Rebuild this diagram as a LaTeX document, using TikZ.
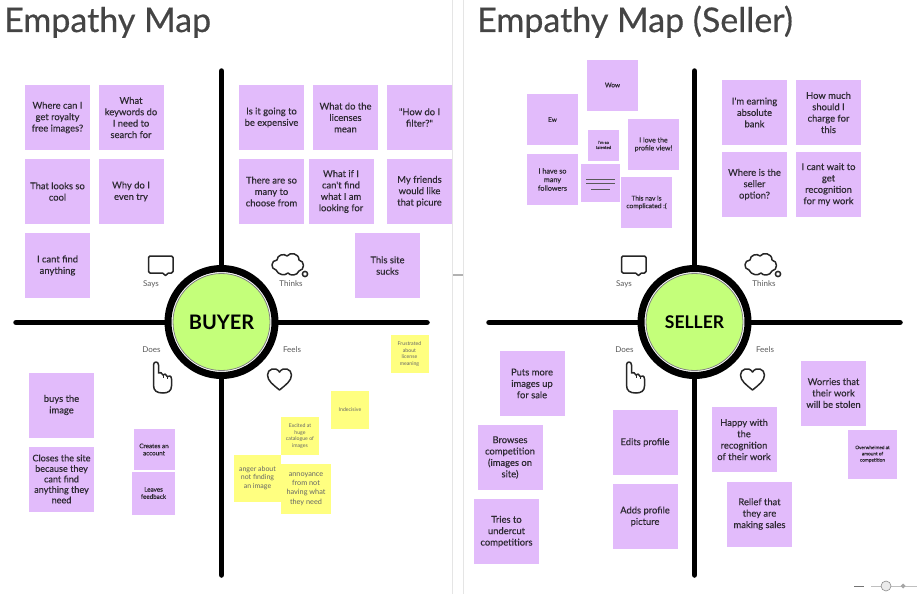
\documentclass[tikz,border=0pt]{standalone}
\usepackage{fontspec}
\setmainfont{Lato}
\newfontfamily\notefont{Lato}[FakeBold=0.25]
\newfontfamily\headfont{Lato}[FakeBold=0.5]
\definecolor{notepurple}{HTML}{E2BBFB}
\definecolor{noteyellow}{HTML}{FFFF80}
\definecolor{hubgreen}{HTML}{C4FF7A}
\definecolor{titlegray}{HTML}{444444}
\definecolor{inkgray}{HTML}{2E2A33}
\tikzset{
    note/.style={fill=notepurple,inner sep=0pt,minimum size=65pt,align=center,text=inkgray,font=\notefont\fontsize{9.4}{11.4}\selectfont},
    sticky/.style={note,fill=noteyellow,text=black!60,minimum size=38pt,font=\rmfamily\fontsize{5.2}{6.4}\selectfont},
    arm/.style={line width=5.5pt,line cap=round,black},
    hubring/.style={circle,draw=black,fill=white,line width=7pt,minimum size=107pt,inner sep=0pt},
    hub/.style={circle,draw=black!50,line width=.8pt,fill=hubgreen,minimum size=97pt,inner sep=0pt},
    quad/.style={text=black!65,font=\fontsize{8}{9}\selectfont,inner sep=0pt},
    headline/.style={anchor=base west,text=titlegray,inner sep=0pt,font=\headfont\fontsize{34}{36}\selectfont},
    icon/.style={line width=1.5pt,black!85,line join=round},
    pics/saysicon/.style={code={
        \draw[icon] (1.5,0) -- (23,0) -- (24.5,1.5) -- (24.5,15.5) -- (23,17) -- (20,17) -- (17,19.5) -- (14,17) -- (1.5,17) -- (0,15.5) -- (0,1.5) -- cycle;
    }},
    pics/thinksicon/.style={code={
        \draw[icon] (5,18) .. controls (-1,17) and (0,8) .. (6,8) .. controls (6,3) and (13,1) .. (16,4) .. controls (19,0) and (28,1) .. (28,8) .. controls (34,9) and (34,18) .. (28,19) .. controls (26,24) and (19,24) .. (17,21) .. controls (14,24) and (7,23) .. (5,18) -- cycle;
        \draw[icon] (34,22) circle [radius=2.6];
    }},
    pics/doesicon/.style={code={
        \draw[icon] (0.5,3) .. controls (0.5,-1) and (5.5,-1) .. (5.5,3) -- (5.5,11) .. controls (7,10) and (9,10.5) .. (10,13) .. controls (11,11) and (13.5,12) .. (14.2,14.5) .. controls (16,13) and (18.5,14) .. (18.5,17) -- (18.5,24) .. controls (18.5,29) and (15,31) .. (10,31) .. controls (4,31) and (0.5,29) .. (0.5,23) -- cycle;
        \draw[icon,line width=1pt] (10,13)--(10,16);
        \draw[icon,line width=1pt] (14.2,14.5)--(14.2,17);
    }},
    pics/feelsicon/.style={code={
        \draw[icon] (12,22) .. controls (6,17) and (0,13) .. (0,7) .. controls (0,1) and (8,-2) .. (12,4) .. controls (16,-2) and (24,1) .. (24,7) .. controls (24,13) and (18,17) .. (12,22) -- cycle;
    }}
}
\begin{document}
\begin{tikzpicture}[x=1pt,y=-1pt]
    \useasboundingbox (0,0) rectangle (917,594);
    % window frame
    \draw[black!10,line width=1pt] (452.5,0)--(452.5,594);
    \draw[black!10,line width=1pt] (463.5,0)--(463.5,594);
    \draw[black!30,line width=1.5pt] (453,275)--(463,275);

    % buyer map
    \node[headline] (buyertitle) at (4,32) {Empathy Map};
    \coordinate (buyerN) at (221.5,71);
    \coordinate (buyerS) at (221.5,575);
    \coordinate (buyerW) at (16,322.5);
    \coordinate (buyerE) at (427,322.5);
    \draw[arm] (buyerN)--(buyerS);
    \draw[arm] (buyerW)--(buyerE);
    \node[hubring] (buyerring) at (221.5,322) {};
    \node[hub,font=\bfseries\fontsize{20}{22}\selectfont] (buyer) at (221.5,322) {BUYER};
    \node[quad] (buyersays) at (151,284) {Says};
    \node[quad] (buyerthinks) at (291,284) {Thinks};
    \node[quad] (buyerdoes) at (151.5,350) {Does};
    \node[quad] (buyerfeels) at (292,350) {Feels};
    \pic (buyersaysicon) at (148.5,256) {saysicon};
    \pic (buyerthinksicon) at (271,252) {thinksicon};
    \pic (buyerdoesicon) at (153,362) {doesicon};
    \pic (buyerfeelsicon) at (267.5,368) {feelsicon};

    \node[note] (royalty) at (57.5,117.5) {Where can I\\get royalty\\free images?};
    \node[note] (keywords) at (131,117.5) {What\\keywords do\\I need to\\search for};
    \node[note] (cool) at (57.5,191.5) {That looks so\\cool};
    \node[note] (whytry) at (131,191.5) {Why do I\\even try};
    \node[note] (cantfind) at (57.5,265.5) {I cant find\\anything};
    \node[note] (expensive) at (271.5,117.5) {Is it going to\\be expensive};
    \node[note] (licenses) at (345.5,117.5) {What do the\\licenses\\mean};
    \node[note] (filter) at (419.5,117.5) {"How do I\\filter?"};
    \node[note] (somany) at (271.5,191.5) {There are so\\many to\\choose from};
    \node[note] (whatif) at (341,191.5) {What if I\\can't find\\what I am\\looking for};
    \node[note] (friends) at (419.5,191.5) {My friends\\would like\\that picure};
    \node[note] (sucks) at (387.5,265.5) {This site\\sucks};
    \node[note] (buys) at (61.5,405) {buys the\\image};
    \node[note,font=\notefont\fontsize{9.1}{10.5}\selectfont] (closes) at (61.5,479) {Closes the site\\because they\\cant find\\anything they\\need};
    \node[note,minimum size=41pt,font=\notefont\fontsize{6.3}{7.2}\selectfont] (account) at (154,449.5) {Creates an\\account};
    \node[note,minimum size=43pt,font=\notefont\fontsize{6.3}{7.2}\selectfont] (feedback) at (153.5,493) {Leaves\\feedback};
    \node[sticky] (frustrated) at (409.5,354) {Frustrated\\about\\license\\meaning};
    \node[sticky] (indecisive) at (350,410) {Indecisive};
    \node[sticky] (excited) at (300,436) {Excited at\\huge\\catalogue of\\images};
    \node[sticky,minimum size=47pt,font=\rmfamily\fontsize{7}{8.3}\selectfont] (anger) at (257.5,478) {anger about\\not finding\\an image};
    \node[sticky,minimum size=50pt,font=\rmfamily\fontsize{7.3}{9.3}\selectfont] (annoyance) at (306,489) {annoyance\\from not\\having what\\they need};

    % seller map
    \node[headline] (sellertitle) at (477,32) {Empathy Map (Seller)};
    \coordinate (sellerN) at (694.5,71);
    \coordinate (sellerS) at (694.5,575);
    \coordinate (sellerW) at (489,322.5);
    \coordinate (sellerE) at (900,322.5);
    \draw[arm] (sellerN)--(sellerS);
    \draw[arm] (sellerW)--(sellerE);
    \node[hubring] (sellerring) at (694.5,322) {};
    \node[hub,font=\bfseries\fontsize{17.5}{20}\selectfont] (seller) at (694.5,322) {SELLER};
    \node[quad] (sellersays) at (624,284) {Says};
    \node[quad] (sellerthinks) at (764,284) {Thinks};
    \node[quad] (sellerdoes) at (624.5,350) {Does};
    \node[quad] (sellerfeels) at (765,350) {Feels};
    \pic (sellersaysicon) at (621.5,256) {saysicon};
    \pic (sellerthinksicon) at (744,252) {thinksicon};
    \pic (sellerdoesicon) at (626,362) {doesicon};
    \pic (sellerfeelsicon) at (740.5,368) {feelsicon};

    \node[note,minimum size=51pt,font=\notefont\fontsize{6.5}{8}\selectfont] (wow) at (612.5,85) {Wow};
    \node[note,minimum size=51pt,font=\notefont\fontsize{6.5}{8}\selectfont] (ew) at (552.5,119.5) {Ew};
    \node[note,minimum size=31pt,font=\notefont\fontsize{4.2}{5}\selectfont] (talented) at (603.5,145) {I'm so\\talented};
    \node[note,minimum size=51pt,font=\notefont\fontsize{7}{8}\selectfont] (profileview) at (653.5,144.5) {I love the\\profile view!};
    \node[note,minimum size=51pt,font=\notefont\fontsize{7.2}{8.6}\selectfont] (followers) at (552.5,179.5) {I have so\\many\\followers};
    \node[note,minimum size=38.5pt] (menunote) at (600.5,183) {};
    \draw[black!65,line width=1pt] (586,179)--(615,179);
    \draw[black!65,line width=1pt] (586,183.7)--(615,183.7);
    \draw[black!65,line width=1pt] (591,189)--(610,189);
    \node[note,minimum size=51pt,font=\notefont\fontsize{6.6}{7.6}\selectfont] (nav) at (646.5,202.5) {This nav is\\complicated :(};
    \node[note] (earning) at (754.5,112.5) {I'm earning\\absolute\\bank};
    \node[note] (howmuch) at (828.5,112.5) {How much\\should I\\charge for\\this};
    \node[note] (option) at (754.5,184.5) {Where is the\\seller\\option?};
    \node[note] (recognition) at (828.5,184.5) {I cant wait to\\get\\recognition\\for my work};
    \node[note] (putsmore) at (532,383.5) {Puts more\\images up\\for sale};
    \node[note] (browses) at (510,457.5) {Browses\\competition\\(images on\\site)};
    \node[note] (undercut) at (506.5,531.5) {Tries to\\undercut\\competitiors};
    \node[note] (edits) at (645,442.5) {Edits profile};
    \node[note] (adds) at (645,516.5) {Adds profile\\picture};
    \node[note] (happy) at (744,439.5) {Happy with\\the\\recognition\\of their work};
    \node[note] (relief) at (759.5,514) {Relief that\\they are\\making sales};
    \node[note] (worries) at (833.5,393) {Worries that\\their work\\will be stolen};
    \node[note,minimum size=49pt,font=\notefont\fontsize{4.7}{6.2}\selectfont] (overwhelmed) at (872.5,454) {Overwhelmed at\\amount of\\competition};

    % zoom control
    \draw[black!55,line width=1pt] (854,586)--(864,586);
    \draw[black!25,line width=.6pt] (871,586)--(881,586);
    \draw[black!25,line width=.6pt] (891,586)--(917,586);
    \draw[black!45,fill=black!8,line width=.6pt] (886,586) circle [radius=5];
    \fill[black!35] (903,583.5)--(905.5,586)--(903,588.5)--(900.5,586)--cycle;
\end{tikzpicture}
\end{document}
